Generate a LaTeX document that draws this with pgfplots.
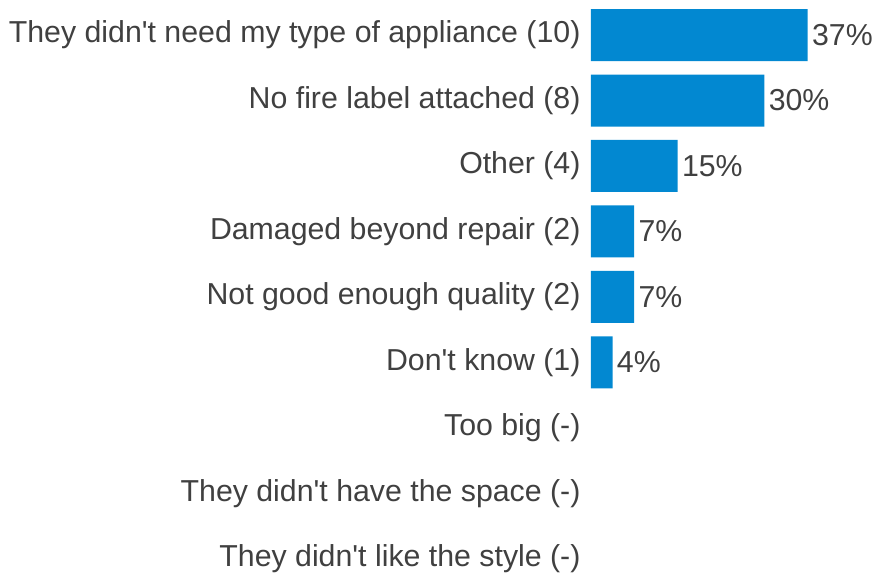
\documentclass[border=0pt]{standalone}
\usepackage{fontspec}
\setmainfont{Liberation Sans}
\usepackage{pgfplots}
\pgfplotsset{compat=1.18}
\usepackage{pgfplotstable}
\definecolor{barblue}{HTML}{0288D1}
\definecolor{txtgray}{HTML}{404040}
\newcommand{\q}{\textquotesingle}

\pgfplotstableread{
pos count label
0 10 37\%
1 8 30\%
2 4 15\%
3 2 7\%
4 2 7\%
5 1 4\%
}\reasons

\begin{document}
\begin{tikzpicture}
\begin{axis}[
    scale only axis,
    width=141pt, height=288.5pt,
    xmin=0, xmax=13,
    ymin=-0.535, ymax=8.275,
    y dir=reverse,
    xbar, bar width=26pt,
    axis line style={draw=none},
    major tick length=0pt,
    xtick=\empty,
    ytick={0,...,8},
    yticklabels={
        They didn\q t need my type of appliance (10),
        No fire label attached (8),
        Other (4),
        Damaged beyond repair (2),
        Not good enough quality (2),
        Don\q t know (1),
        Too big (-),
        They didn\q t have the space (-),
        They didn\q t like the style (-)},
    yticklabel style={inner sep=0pt, xshift=-5pt, font=\fontsize{15.15}{18}\selectfont, text=txtgray},
    clip=false,
    nodes near coords,
    point meta=explicit symbolic,
    nodes near coords style={anchor=west, inner sep=0pt, xshift=2pt, font=\fontsize{15.15}{18}\selectfont, text=txtgray},
]
\addplot[fill=barblue, draw=none] table[x=count, y=pos, meta=label] {\reasons};
\end{axis}
\path (current axis.south west) ++(-295.5pt,0pt);
\end{tikzpicture}
\end{document}
